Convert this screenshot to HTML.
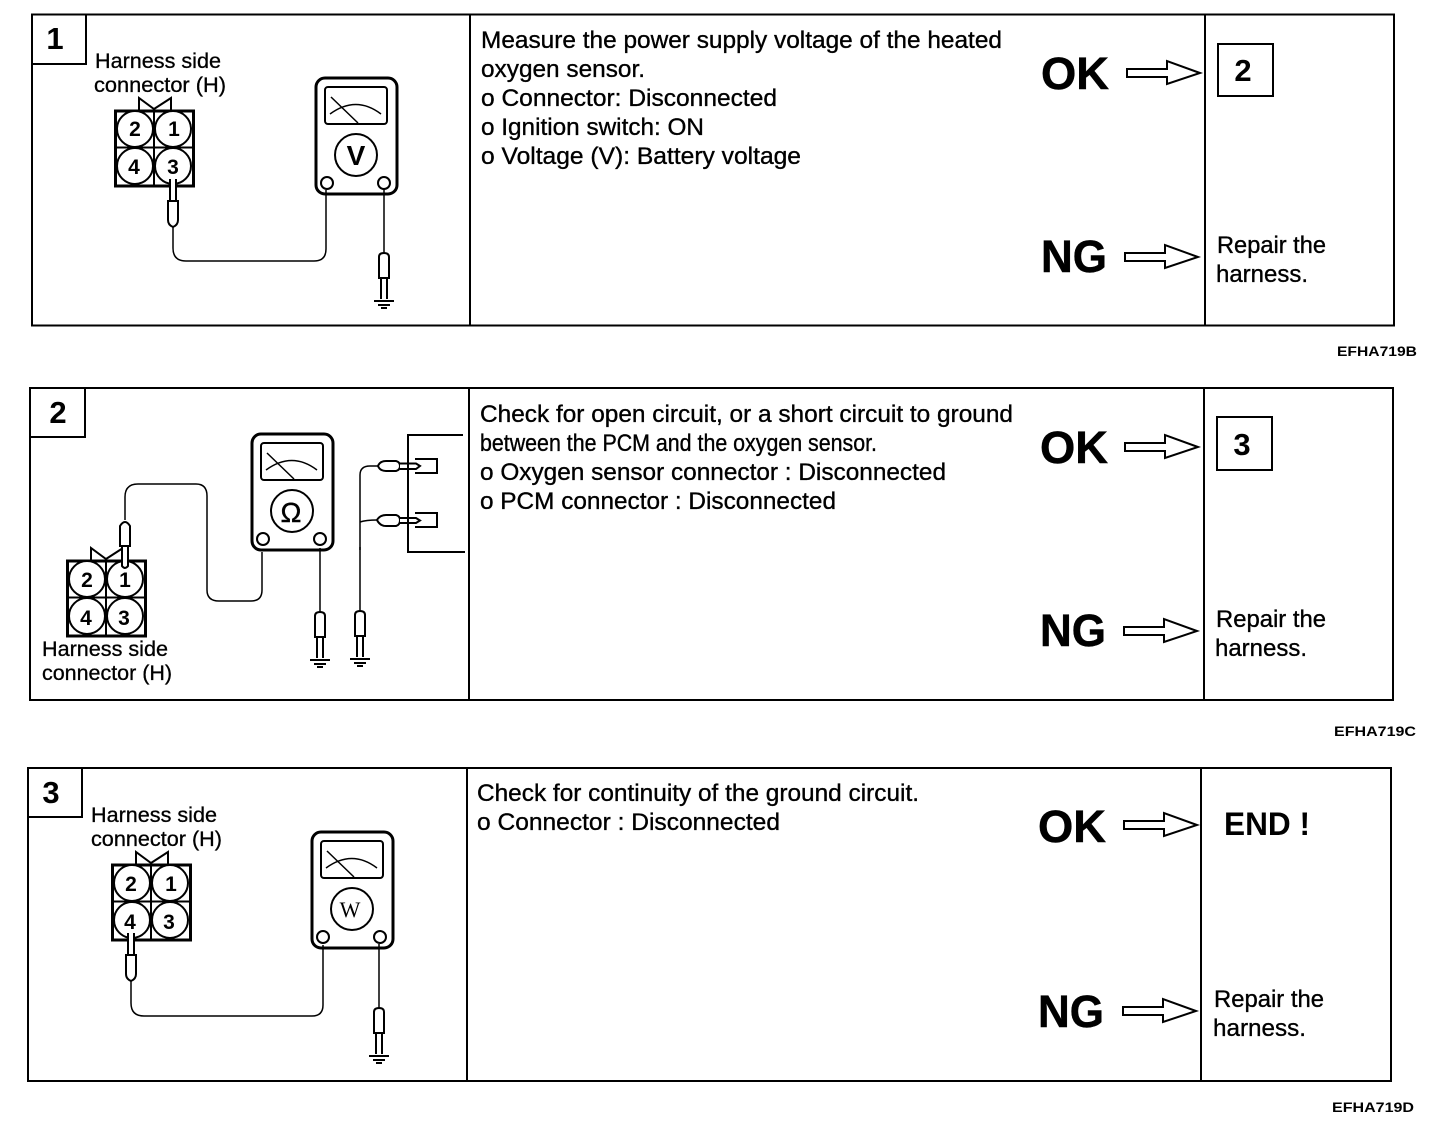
<!DOCTYPE html>
<html><head><meta charset="utf-8"><style>
html,body{margin:0;padding:0;background:#fff}
svg{display:block}
text{font-family:"Liberation Sans",sans-serif;fill:#000}
.b{font-size:24px;stroke:#000;stroke-width:.35px}
.h{font-size:21px;stroke:#000;stroke-width:.3px}
.s{font-weight:700;font-size:45px;stroke:#000;stroke-width:.5px}
.n{font-weight:700;font-size:31px;text-anchor:middle}
.d{font-weight:700;font-size:21px;text-anchor:middle}
.c{font-weight:700;font-size:14px}
.l{fill:none;stroke:#000;stroke-width:2}
.t{fill:none;stroke:#000;stroke-width:1.5}
.w{fill:#fff;stroke:#000;stroke-width:2}
</style></head><body>
<svg width="1440" height="1146" viewBox="0 0 1440 1146" xmlns="http://www.w3.org/2000/svg">
<defs>
<g id="meter">
<rect x="316" y="78" width="81" height="116" rx="9" class="l" style="stroke-width:3"/>
<rect x="325" y="87" width="62" height="37" rx="3" class="l"/>
<path d="M331 97L358 123M330 114Q356 95 381 114" class="t"/>
<circle cx="356" cy="155" r="21" class="l"/>
<circle cx="327" cy="183" r="6" class="w"/>
<circle cx="384" cy="183" r="6" class="w"/>
</g>
<g id="conn">
<path d="M139 110V98L154 109L171 98V110" class="l"/>
<rect x="115.500" y="111" width="78" height="75" class="l" style="stroke-width:3"/>
<path d="M154 110V186M115 147.500H194" class="l"/>
<circle cx="135" cy="129" r="18" class="w"/>
<circle cx="173" cy="129" r="18" class="w"/>
<circle cx="135" cy="166" r="18" class="w"/>
<circle cx="173" cy="166" r="18" class="w"/>
</g>
<g id="ground">
<path d="M0 -64V0" class="l" style="stroke-width:1.500"/>
<path d="M-5 25V4Q-5 0 0 0Q5 0 5 4V25Z" class="w"/>
<path d="M-3 25V46M3 25V46" class="l"/>
<path d="M-10 48H10M-6 52H6M-3 55H3" class="l"/>
</g>
<g id="arrow">
<path d="M0 -4H40V-12L73 0L40 11V4H0Z" class="w"/>
</g>
<g id="vprobe">
<path d="M-3 -22V0H3V-22" class="w"/>
<path d="M-5 0V19Q-5 24 0 26Q5 24 5 19V0Z" class="w"/>
</g>
</defs>

<!-- Panel 1 -->
<rect x="32" y="14.500" width="1362" height="311" class="l"/>
<path d="M470 14V325M1205 14V325" class="l"/>
<path d="M32 64H86V14" class="l"/>
<text x="55" y="49" class="n">1</text>
<text x="95" y="68" class="h" textLength="126" lengthAdjust="spacingAndGlyphs">Harness side</text>
<text x="94" y="92" class="h" textLength="132" lengthAdjust="spacingAndGlyphs">connector (H)</text>
<use href="#conn"/>
<text x="135" y="136" class="d">2</text><text x="174" y="136" class="d">1</text>
<text x="134" y="174" class="d">4</text><text x="173" y="174" class="d">3</text>
<use href="#vprobe" x="173" y="201"/>
<path d="M173 226V248Q173 261 186 261H314Q326 261 326 249V190" class="t"/>
<use href="#meter"/>
<text x="356" y="165" class="d" style="font-size:28px">V</text>
<use href="#ground" x="384" y="253"/>
<text x="481" y="48" class="b" textLength="521" lengthAdjust="spacingAndGlyphs">Measure the power supply voltage of the heated</text>
<text x="481" y="77" class="b" textLength="164" lengthAdjust="spacingAndGlyphs">oxygen sensor.</text>
<text x="481" y="106" class="b" textLength="296" lengthAdjust="spacingAndGlyphs">o Connector: Disconnected</text>
<text x="481" y="135" class="b" textLength="223" lengthAdjust="spacingAndGlyphs">o Ignition switch: ON</text>
<text x="481" y="164" class="b" textLength="320" lengthAdjust="spacingAndGlyphs">o Voltage (V): Battery voltage</text>
<text x="1041" y="89" class="s" textLength="68" lengthAdjust="spacingAndGlyphs">OK</text>
<text x="1041" y="272" class="s" textLength="66" lengthAdjust="spacingAndGlyphs">NG</text>
<use href="#arrow" x="1127" y="73"/>
<use href="#arrow" x="1125" y="257"/>
<rect x="1218" y="44" width="55" height="52" class="l"/>
<text x="1243" y="81" class="n">2</text>
<text x="1217" y="253" class="b" textLength="109" lengthAdjust="spacingAndGlyphs">Repair the</text>
<text x="1216" y="282" class="b" textLength="92" lengthAdjust="spacingAndGlyphs">harness.</text>
<text x="1337" y="356" class="c" textLength="80" lengthAdjust="spacingAndGlyphs">EFHA719B</text>

<!-- Panel 2 -->
<rect x="30" y="388" width="1363" height="312" class="l"/>
<path d="M469 388V700M1204 388V700" class="l"/>
<path d="M30 437H85V388" class="l"/>
<text x="58" y="423" class="n">2</text>
<use href="#conn" x="-48" y="450"/>
<text x="87" y="587" class="d">2</text><text x="125" y="587" class="d">1</text>
<text x="86" y="625" class="d">4</text><text x="124" y="625" class="d">3</text>
<text x="42" y="656" class="h" textLength="126" lengthAdjust="spacingAndGlyphs">Harness side</text>
<text x="42" y="680" class="h" textLength="130" lengthAdjust="spacingAndGlyphs">connector (H)</text>
<path d="M122 546V566Q125 570 128 566V546" class="w"/>
<path d="M120 546V526Q125 518 130 526V546Z" class="w"/>
<path d="M125 520V497Q125 484 138 484H196Q207 484 207 496V590Q207 601 219 601H251Q262 601 262 590V552" class="t"/>
<use href="#meter" x="-64" y="356"/>
<text x="291" y="522" class="d" style="font-weight:400;font-size:28px;stroke:#000;stroke-width:.4px">Ω</text>
<use href="#ground" x="320" y="612"/>
<use href="#ground" x="360" y="611"/>
<path d="M360 550V475Q360 466 370 466H378M360 522Q366 520 377 520" class="t"/>
<path d="M378 466Q380 461 386 461H396Q400 462 400 466Q400 470 396 471H386Q380 471 378 466Z" class="w"/>
<path d="M377 520Q380 515 386 515H396Q400 516 400 520Q400 525 396 526H386Q380 526 377 520Z" class="w"/>
<path d="M400 463.500H416L420 466L416 469H400" class="w"/>
<path d="M400 518H416L420 520.500L416 523H400" class="w"/>
<path d="M463 435H408V552H465" class="l"/>
<path d="M415 459H437V473H415M415 513H437V527H415" class="l"/>
<text x="480" y="422" class="b" textLength="533" lengthAdjust="spacingAndGlyphs">Check for open circuit, or a short circuit to ground</text>
<text x="480" y="451" class="b" textLength="397" lengthAdjust="spacingAndGlyphs">between the PCM and the oxygen sensor.</text>
<text x="480" y="480" class="b" textLength="466" lengthAdjust="spacingAndGlyphs">o Oxygen sensor connector : Disconnected</text>
<text x="480" y="509" class="b" textLength="356" lengthAdjust="spacingAndGlyphs">o PCM connector : Disconnected</text>
<text x="1040" y="463" class="s" textLength="68" lengthAdjust="spacingAndGlyphs">OK</text>
<text x="1040" y="646" class="s" textLength="66" lengthAdjust="spacingAndGlyphs">NG</text>
<use href="#arrow" x="1125" y="447"/>
<use href="#arrow" x="1124" y="631"/>
<rect x="1217" y="417" width="55" height="53" class="l"/>
<text x="1242" y="455" class="n">3</text>
<text x="1216" y="627" class="b" textLength="110" lengthAdjust="spacingAndGlyphs">Repair the</text>
<text x="1215" y="656" class="b" textLength="92" lengthAdjust="spacingAndGlyphs">harness.</text>
<text x="1334" y="736" class="c" textLength="82" lengthAdjust="spacingAndGlyphs">EFHA719C</text>

<!-- Panel 3 -->
<rect x="28" y="768" width="1363" height="313" class="l"/>
<path d="M467 768V1081M1201 768V1081" class="l"/>
<path d="M28 817H82V768" class="l"/>
<text x="51" y="803" class="n">3</text>
<text x="91" y="822" class="h" textLength="126" lengthAdjust="spacingAndGlyphs">Harness side</text>
<text x="91" y="846" class="h" textLength="131" lengthAdjust="spacingAndGlyphs">connector (H)</text>
<use href="#conn" x="-3" y="754"/>
<text x="131" y="891" class="d">2</text><text x="171" y="891" class="d">1</text>
<text x="130" y="929" class="d">4</text><text x="169" y="929" class="d">3</text>
<use href="#vprobe" x="131" y="955"/>
<path d="M131 980V1003Q131 1016 144 1016H312Q323 1016 323 1005V945" class="t"/>
<use href="#meter" x="-4" y="754"/>
<text x="350" y="917" class="d" style="font-family:'Liberation Serif',serif;font-weight:400;font-size:22px">W</text>
<use href="#ground" x="379" y="1008"/>
<text x="477" y="801" class="b" textLength="442" lengthAdjust="spacingAndGlyphs">Check for continuity of the ground circuit.</text>
<text x="477" y="830" class="b" textLength="303" lengthAdjust="spacingAndGlyphs">o Connector : Disconnected</text>
<text x="1038" y="842" class="s" textLength="68" lengthAdjust="spacingAndGlyphs">OK</text>
<text x="1038" y="1027" class="s" textLength="66" lengthAdjust="spacingAndGlyphs">NG</text>
<use href="#arrow" x="1124" y="825"/>
<use href="#arrow" x="1123" y="1011"/>
<text x="1224" y="835" style="font-weight:700;font-size:32px" textLength="86" lengthAdjust="spacingAndGlyphs">END !</text>
<text x="1214" y="1007" class="b" textLength="110" lengthAdjust="spacingAndGlyphs">Repair the</text>
<text x="1213" y="1036" class="b" textLength="93" lengthAdjust="spacingAndGlyphs">harness.</text>
<text x="1332" y="1112" class="c" textLength="82" lengthAdjust="spacingAndGlyphs">EFHA719D</text>
</svg>
</body></html>
